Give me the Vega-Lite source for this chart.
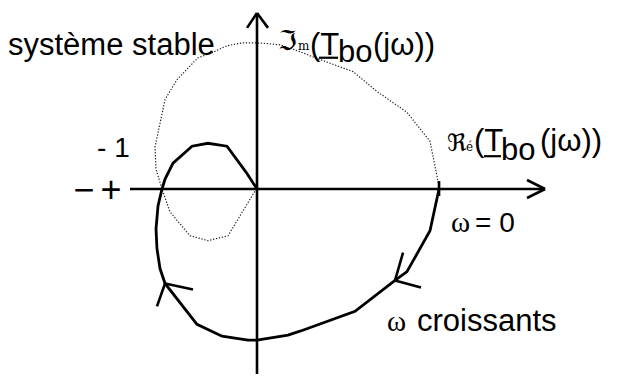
{
  "$schema": "https://vega.github.io/schema/vega-lite/v6.json",
  "width": 619,
  "height": 376,
  "autosize": {"type": "fit", "contains": "padding"},
  "padding": 0,
  "background": "white",
  "config": {"view": {"stroke": null}},
  "encoding": {
    "x": {"field": "x", "type": "quantitative", "scale": {"domain": [-2.7053, 3.8105], "nice": false, "zero": false}, "axis": null},
    "y": {"field": "y", "type": "quantitative", "scale": {"domain": [-1.9579, 2.0], "nice": false, "zero": false}, "axis": null}
  },
  "layer": [
    {
      "description": "Nyquist locus for negative frequencies (mirror image), dotted",
      "data": {"values": [
        {"i": 0, "x": 1.916, "y": 0},
        {"i": 1, "x": 1.905, "y": 0.084},
        {"i": 2, "x": 1.821, "y": 0.505},
        {"i": 3, "x": 1.579, "y": 0.811},
        {"i": 4, "x": 1.263, "y": 1.032},
        {"i": 5, "x": 1.011, "y": 1.242},
        {"i": 6, "x": 0.611, "y": 1.389},
        {"i": 7, "x": 0.453, "y": 1.453},
        {"i": 8, "x": 0.242, "y": 1.526},
        {"i": 9, "x": 0, "y": 1.547},
        {"i": 10, "x": -0.147, "y": 1.547},
        {"i": 11, "x": -0.316, "y": 1.516},
        {"i": 12, "x": -0.474, "y": 1.442},
        {"i": 13, "x": -0.621, "y": 1.389},
        {"i": 14, "x": -0.842, "y": 1.158},
        {"i": 15, "x": -0.968, "y": 0.947},
        {"i": 16, "x": -1.074, "y": 0.442},
        {"i": 17, "x": -1.063, "y": 0.211},
        {"i": 18, "x": -1.0, "y": 0},
        {"i": 19, "x": -0.916, "y": -0.242},
        {"i": 20, "x": -0.705, "y": -0.495},
        {"i": 21, "x": -0.516, "y": -0.547},
        {"i": 22, "x": -0.305, "y": -0.495},
        {"i": 23, "x": -0.021, "y": -0.021},
        {"i": 24, "x": 0, "y": 0}
      ]},
      "mark": {"type": "line", "stroke": "#222222", "strokeWidth": 1.2, "strokeDash": [1.3, 1.7]},
      "encoding": {"order": {"field": "i", "type": "quantitative"}}
    },
    {
      "description": "Nyquist locus for positive frequencies",
      "data": {"values": [
        {"i": 0, "x": 1.916, "y": 0},
        {"i": 1, "x": 1.821, "y": -0.442},
        {"i": 2, "x": 1.579, "y": -0.874},
        {"i": 3, "x": 1.453, "y": -0.968},
        {"i": 4, "x": 1.032, "y": -1.295},
        {"i": 5, "x": 0.453, "y": -1.505},
        {"i": 6, "x": 0.326, "y": -1.547},
        {"i": 7, "x": 0, "y": -1.6},
        {"i": 8, "x": -0.095, "y": -1.6},
        {"i": 9, "x": -0.368, "y": -1.558},
        {"i": 10, "x": -0.632, "y": -1.432},
        {"i": 11, "x": -0.968, "y": -1.0},
        {"i": 12, "x": -1.021, "y": -0.842},
        {"i": 13, "x": -1.053, "y": -0.632},
        {"i": 14, "x": -1.063, "y": -0.421},
        {"i": 15, "x": -1.042, "y": -0.179},
        {"i": 16, "x": -1.0, "y": 0},
        {"i": 17, "x": -0.968, "y": 0.105},
        {"i": 18, "x": -0.884, "y": 0.274},
        {"i": 19, "x": -0.684, "y": 0.453},
        {"i": 20, "x": -0.516, "y": 0.484},
        {"i": 21, "x": -0.316, "y": 0.453},
        {"i": 22, "x": -0.116, "y": 0.179},
        {"i": 23, "x": 0, "y": 0}
      ]},
      "mark": {"type": "line", "stroke": "black", "strokeWidth": 2.8},
      "encoding": {"order": {"field": "i", "type": "quantitative"}}
    },
    {
      "description": "Axes, arrowheads, the omega = 0 tick and the direction arrows",
      "data": {"values": [
        {"x": -1.337, "y": 0, "x2": 3.032, "y2": 0},
        {"x": 0, "y": -1.958, "x2": 0, "y2": 1.863},
        {"x": 2.842, "y": 0.095, "x2": 3.032, "y2": 0},
        {"x": 2.842, "y": -0.095, "x2": 3.032, "y2": 0},
        {"x": -0.105, "y": 1.705, "x2": 0, "y2": 1.863},
        {"x": 0.116, "y": 1.705, "x2": 0, "y2": 1.863},
        {"x": 1.916, "y": 0.084, "x2": 1.916, "y2": -0.074},
        {"x": 1.537, "y": -0.674, "x2": 1.453, "y2": -0.968},
        {"x": 1.726, "y": -1.042, "x2": 1.453, "y2": -0.968},
        {"x": -0.674, "y": -1.063, "x2": -0.968, "y2": -1.0},
        {"x": -1.053, "y": -1.242, "x2": -0.968, "y2": -1.0}
      ]},
      "mark": {"type": "rule", "stroke": "black", "strokeWidth": 2.6},
      "encoding": {"x2": {"field": "x2"}, "y2": {"field": "y2"}}
    },
    {
      "description": "Underline of the complex transfer function symbol",
      "data": {"values": [
        {"x": 0.653, "y": 1.389, "x2": 0.853, "y2": 1.389},
        {"x": 2.39, "y": 0.347, "x2": 2.568, "y2": 0.347}
      ]},
      "mark": {"type": "rule", "stroke": "black", "strokeWidth": 2.2},
      "encoding": {"x2": {"field": "x2"}, "y2": {"field": "y2"}}
    },
    {
      "data": {"values": [
        {"t": "système stable", "x": -2.621, "y": 1.421},
        {"t": "croissants", "x": 1.684, "y": -1.505},
        {"t": "(T", "x": 0.558, "y": 1.421},
        {"t": "bo", "x": 0.853, "y": 1.347},
        {"t": "(jω))", "x": 1.221, "y": 1.421},
        {"t": "(T", "x": 2.284, "y": 0.4},
        {"t": "bo", "x": 2.568, "y": 0.305},
        {"t": "(jω))", "x": 2.979, "y": 0.4}
      ]},
      "mark": {"type": "text", "font": "Liberation Sans", "fontSize": 31, "align": "left", "baseline": "alphabetic", "color": "black"},
      "encoding": {"text": {"field": "t"}}
    },
    {
      "data": {"values": [
        {"t": "- 1", "x": -1.684, "y": 0.337},
        {"t": "= 0", "x": 2.295, "y": -0.453}
      ]},
      "mark": {"type": "text", "font": "Liberation Sans", "fontSize": 28, "align": "left", "baseline": "alphabetic", "color": "black"},
      "encoding": {"text": {"field": "t"}}
    },
    {
      "data": {"values": [
        {"t": "−", "x": -1.821, "y": -0.137},
        {"t": "+", "x": -1.537, "y": -0.137}
      ]},
      "mark": {"type": "text", "font": "Liberation Sans", "fontSize": 36, "align": "center", "baseline": "alphabetic", "color": "black"},
      "encoding": {"text": {"field": "t"}}
    },
    {
      "data": {"values": [
        {"t": "ω", "x": 2.042, "y": -0.453},
        {"t": "ω", "x": 1.368, "y": -1.505}
      ]},
      "mark": {"type": "text", "font": "Liberation Serif", "fontSize": 29, "align": "left", "baseline": "alphabetic", "color": "black"},
      "encoding": {"text": {"field": "t"}}
    },
    {
      "data": {"values": [
        {"t": "ℑ", "x": 0.221, "y": 1.474}
      ]},
      "mark": {"type": "text", "font": "DejaVu Sans", "fontSize": 27, "align": "left", "baseline": "alphabetic", "color": "black"},
      "encoding": {"text": {"field": "t"}}
    },
    {
      "data": {"values": [
        {"t": "ℜ", "x": 2.0, "y": 0.4}
      ]},
      "mark": {"type": "text", "font": "DejaVu Sans", "fontSize": 24, "align": "left", "baseline": "alphabetic", "color": "black"},
      "encoding": {"text": {"field": "t"}}
    },
    {
      "data": {"values": [
        {"t": "m", "x": 0.432, "y": 1.474},
        {"t": "é", "x": 2.2, "y": 0.4}
      ]},
      "mark": {"type": "text", "font": "DejaVu Serif", "fontSize": 12, "align": "left", "baseline": "alphabetic", "color": "black"},
      "encoding": {"text": {"field": "t"}}
    }
  ]
}
